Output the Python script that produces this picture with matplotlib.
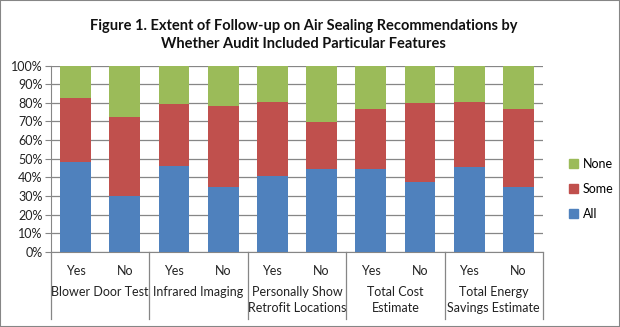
import numpy as np
import matplotlib
matplotlib.use('Agg')
import matplotlib.pyplot as plt
from matplotlib.patches import Rectangle, Patch

plt.rcParams['font.family'] = ['Lato', 'DejaVu Sans']

# data (percent)
groups = ['Blower Door Test', 'Infrared Imaging', 'Personally Show\nRetrofit Locations',
          'Total Cost\nEstimate', 'Total Energy\nSavings Estimate']
answers = ['Yes', 'No']
all_vals = [48.2, 29.9, 46.1, 34.9, 40.7, 44.6, 44.6, 37.5, 45.7, 34.9]
some_vals = [34.4, 42.5, 33.3, 43.4, 39.8, 25.1, 32.3, 42.4, 34.8, 42.0]
none_vals = [100 - a - s for a, s in zip(all_vals, some_vals)]

blue = '#4F81BD'
red = '#C0504D'
green = '#9BBB59'
gray = '#868686'

W, H = 620, 327
fig = plt.figure(figsize=(W / 100, H / 100), dpi=100)
ax = fig.add_axes([51 / W, (H - 251.7) / H, (543 - 51) / W, 186 / H])

x = np.arange(len(all_vals))
bw = 0.63
ax.bar(x, all_vals, bw, color=blue, zorder=3, label='All')
ax.bar(x, some_vals, bw, bottom=all_vals, color=red, zorder=3, label='Some')
bottom2 = [a + s for a, s in zip(all_vals, some_vals)]
ax.bar(x, none_vals, bw, bottom=bottom2, color=green, zorder=3, label='None')

ax.set_xlim(-0.5, len(x) - 0.5)
ax.set_ylim(0, 100)
ax.set_yticks(np.arange(0, 101, 10))
ax.set_yticklabels([f'{v}%' for v in range(0, 101, 10)])
ax.yaxis.grid(True, color=gray, linewidth=0.9, zorder=0)
ax.set_xticks([])
ax.tick_params(axis='y', length=4, color=gray, labelsize=9, labelcolor='#222222', pad=2)
for s in ['top', 'right']:
    ax.spines[s].set_visible(False)
ax.spines['left'].set_color(gray)
ax.spines['bottom'].set_color(gray)

# category labels below the axis
trans = ax.get_xaxis_transform()
for i in x:
    ax.text(i, (251.7 - 271) / 186, answers[i % 2], transform=trans,
            ha='center', va='center', fontsize=9, color='#222222')
for g, name in enumerate(groups):
    ax.text(2 * g + 0.5, (251.7 - 286.5) / 186, name, transform=trans,
            ha='center', va='top', fontsize=9, color='#222222', linespacing=1.35)
for b in np.arange(-0.5, len(x), 2):
    ax.plot([b, b], [0, (251.7 - 319) / 186], transform=trans, color=gray,
            linewidth=0.9, clip_on=False)

fig.text(0.49, (H - 35) / H, 'Figure 1. Extent of Follow-up on Air Sealing Recommendations by\n'
         'Whether Audit Included Particular Features', ha='center', va='center',
         fontsize=10.5, fontweight='bold', color='#111111', linespacing=1.45)

handles = [Patch(color=green), Patch(color=red), Patch(color=blue)]
fig.legend(handles, ['None', 'Some', 'All'], loc='center left',
           bbox_to_anchor=(558 / W, (H - 189) / H), frameon=False, fontsize=9,
           handlelength=0.7, handleheight=0.7, handletextpad=0.4, labelspacing=1.05)

fig.patches.append(Rectangle((0, 0), 1, 1, transform=fig.transFigure, fill=False,
                             edgecolor=gray, linewidth=1.5))

fig.savefig('out.png', dpi=100)
